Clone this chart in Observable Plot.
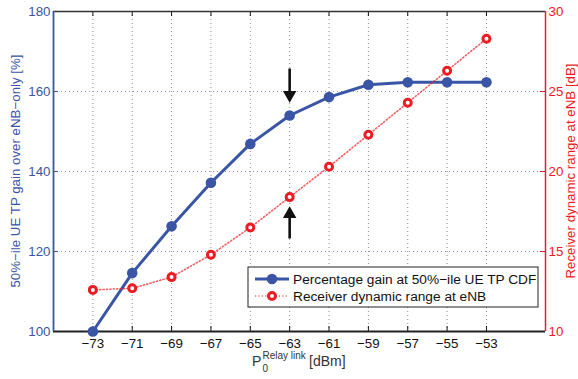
<!DOCTYPE html>
<html>
<head>
<meta charset="utf-8">
<script src="https://cdn.jsdelivr.net/npm/d3@7"></script>
<script src="https://cdn.jsdelivr.net/npm/@observablehq/plot@0.6"></script>
<style>
  body { margin: 0; background: #fff; }
  #chart { position: relative; width: 578px; height: 379px; }
</style>
</head>
<body>
<div id="chart"></div>
<script>
// Relay-link target received power P0 [dBm]
const relayPower = [-73, -71, -69, -67, -65, -63, -61, -59, -57, -55, -53];
// Gain of the 50%-ile UE throughput over eNB-only [%] (left axis)
const gainPct = [100, 114.6, 126.3, 137.2, 146.9, 154.0, 158.6, 161.7, 162.3, 162.3, 162.3];
// Receiver dynamic range at the eNB [dB] (right axis)
const dynRangeDb = [12.6, 12.7, 13.4, 14.8, 16.5, 18.4, 20.3, 22.3, 24.3, 26.3, 28.3];

// Axis ticks
const xTicks = [-73, -71, -69, -67, -65, -63, -61, -59, -57, -55, -53];
const gainTicks = [100, 120, 140, 160, 180];
const gainGrid = [120, 140, 160];
const rangeTicks = [10, 15, 20, 25, 30];

// Axis extents
const xDomain = [-75, -50];
const gainDomain = [100, 180];
const rangeDomain = [10, 30];

// Arrow annotations at P0 = -63 dBm (values on the left-axis scale)
const arrowX = [-63, -63];
const arrowTail = [165.75, 123.25];
const arrowTip = [157.25, 131.25];
const arrowRotate = [180, 0];

const BLUE = "#3a55a5";
const RED = "#ec1c24";
const FONT = "'Liberation Sans', Arial, Helvetica, sans-serif";

// The dB axis shares the % scale: map rangeDomain linearly onto gainDomain
const dbToPct = d3.scaleLinear(rangeDomain, gainDomain);

const rows = relayPower.map((p, i) => ({p, gain: gainPct[i], range: dynRangeDb[i]}));
const arrows = arrowX.map((x, i) => ({x, tail: arrowTail[i], tip: arrowTip[i], rotate: arrowRotate[i]}));

const W = 578, H = 379;
const mL = 53, mR = 33, mT = 11, mB = 48;
const frameW = W - mL - mR, frameH = H - mT - mB;
const tickLen = 5;

const chart = Plot.plot({
  width: W,
  height: H,
  marginLeft: mL,
  marginRight: mR,
  marginTop: mT,
  marginBottom: mB,
  style: {fontFamily: FONT, fontSize: "13px", background: "#fff", overflow: "visible"},
  x: {domain: xDomain, axis: null},
  y: {domain: gainDomain, axis: null},
  marks: [
    // dotted grid
    Plot.gridX(xTicks, {stroke: "#8c8c8c", strokeOpacity: 1, strokeDasharray: "1,3"}),
    Plot.gridY(gainGrid, {stroke: "#8f8fd0", strokeOpacity: 1, strokeDasharray: "1,3"}),

    // inward tick marks on all four sides
    Plot.tickX(xTicks, {x: d => d, stroke: "#111", insetTop: frameH - tickLen}),
    Plot.tickX(xTicks, {x: d => d, stroke: "#111", insetBottom: frameH - tickLen}),
    Plot.tickY(gainTicks, {y: d => d, stroke: BLUE, insetRight: frameW - tickLen}),
    Plot.tickY(rangeTicks, {y: d => dbToPct(d), stroke: RED, insetLeft: frameW - tickLen}),

    // tick labels
    Plot.axisX(xTicks, {anchor: "bottom", tickSize: 0, tickPadding: 7, color: "#111", label: null, fontSize: 13.3}),
    Plot.axisY(gainTicks, {anchor: "left", tickSize: 0, tickPadding: 3, color: BLUE, label: null, fontSize: 13.3}),
    Plot.axisY(rangeTicks.map(d => dbToPct(d)), {
      anchor: "right", tickSize: 0, tickPadding: 3, color: RED, label: null, fontSize: 13.3,
      tickFormat: v => String(Math.round(dbToPct.invert(v)))
    }),

    // box
    Plot.ruleY([gainDomain[1]], {stroke: "#333", strokeWidth: 1.5}),
    Plot.ruleY([gainDomain[0]], {stroke: "#222", strokeWidth: 1.8}),
    Plot.ruleX([xDomain[0]], {stroke: BLUE, strokeWidth: 1.8}),
    Plot.ruleX([xDomain[1]], {stroke: RED, strokeWidth: 1.5}),

    // percentage gain series
    Plot.line(rows, {x: "p", y: "gain", stroke: BLUE, strokeWidth: 3}),
    Plot.dot(rows, {x: "p", y: "gain", r: 5.3, fill: BLUE, stroke: "none"}),

    // receiver dynamic range series
    Plot.line(rows, {x: "p", y: d => dbToPct(d.range), stroke: RED, strokeOpacity: 0.7, strokeWidth: 1.6, strokeDasharray: "1.2,2.2"}),
    Plot.dot(rows, {x: "p", y: d => dbToPct(d.range), r: 3.5, fill: "#fff", stroke: RED, strokeWidth: 3}),

    // arrows
    Plot.link(arrows, {x1: "x", y1: "tail", x2: "x", y2: d => (d.tail + d.tip) / 2 + (d.tip - d.tail) * 0.2, stroke: "#111", strokeWidth: 2.6}),
    Plot.dot(arrows.filter(d => d.rotate === 180), {x: "x", y: "tip", symbol: "triangle", rotate: 180, r: 5, fill: "#111", dy: -7.5}),
    Plot.dot(arrows.filter(d => d.rotate === 0), {x: "x", y: "tip", symbol: "triangle", rotate: 0, r: 5, fill: "#111", dy: 7.5})
  ]
});

document.getElementById("chart").appendChild(chart);

const svg = d3.select(chart);

// axis titles
svg.append("text")
  .attr("transform", `translate(15,${mT + frameH / 2}) rotate(-90)`)
  .attr("text-anchor", "middle").attr("dy", "0.35em")
  .attr("fill", BLUE).attr("font-size", 13.3).attr("font-family", FONT)
  .text("50%−ile UE TP gain over eNB−only [%]");

svg.append("text")
  .attr("transform", `translate(570.5,${mT + frameH / 2}) rotate(-90)`)
  .attr("text-anchor", "middle").attr("dy", "0.35em")
  .attr("fill", RED).attr("font-size", 13.3).attr("font-family", FONT)
  .text("Receiver dynamic range at eNB [dB]");

// x label: P0 with superscript "Relay link"
const xl = svg.append("g").attr("transform", "translate(252,366)")
  .attr("font-family", FONT).attr("text-anchor", "start");
xl.append("text").attr("font-size", 14).attr("fill", "#333").text("P");
xl.append("text").attr("x", 10.5).attr("y", 6).attr("font-size", 10).attr("fill", "#333").text("0");
xl.append("text").attr("x", 10.5).attr("y", -7).attr("font-size", 10).attr("fill", "#333").text("Relay link");
xl.append("text").attr("x", 57).attr("font-size", 14).attr("fill", "#333").text("[dBm]");

// legend
const lg = svg.append("g").attr("transform", "translate(248,267)")
  .attr("font-family", FONT).attr("text-anchor", "start");
lg.append("rect").attr("width", 290).attr("height", 40)
  .attr("fill", "#fff").attr("stroke", "#222").attr("stroke-width", 1);
const entries = [
  {label: "Percentage gain at 50%−ile UE TP CDF", y: 12},
  {label: "Receiver dynamic range at eNB", y: 29}
];
lg.append("line").attr("x1", 7).attr("x2", 41).attr("y1", entries[0].y).attr("y2", entries[0].y)
  .attr("stroke", BLUE).attr("stroke-width", 3);
lg.append("circle").attr("cx", 24).attr("cy", entries[0].y).attr("r", 5.3).attr("fill", BLUE);
lg.append("line").attr("x1", 7).attr("x2", 41).attr("y1", entries[1].y).attr("y2", entries[1].y)
  .attr("stroke", RED).attr("stroke-opacity", 0.7).attr("stroke-width", 1.6).attr("stroke-dasharray", "1.2,2.2");
lg.append("circle").attr("cx", 24).attr("cy", entries[1].y).attr("r", 3.5)
  .attr("fill", "#fff").attr("stroke", RED).attr("stroke-width", 3);
entries.forEach(e => {
  lg.append("text").attr("x", 45).attr("y", e.y).attr("dy", "0.35em")
    .attr("font-size", 13.7).attr("fill", "#111").text(e.label);
});
</script>
</body>
</html>
